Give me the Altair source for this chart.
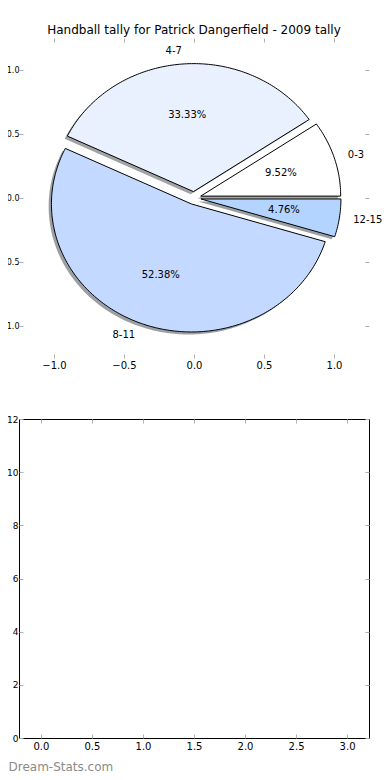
import numpy as np
import pandas as pd
import altair as alt

# ---- data ----
labels = ["0-3", "4-7", "8-11", "12-15"]
counts = [2, 7, 11, 1]
face_colors = ["#ffffff", "#e9f1ff", "#c4d9ff", "#b3d4ff"]
explode = [0.05, 0.05, 0.05, 0.05]

pie_ticks = [-1.0, -0.5, 0.0, 0.5, 1.0]
bottom_x_ticks = [0.0, 0.5, 1.0, 1.5, 2.0, 2.5, 3.0]
bottom_y_ticks = [0, 2, 4, 6, 8, 10, 12]

title_text = "Handball tally for Patrick Dangerfield - 2009 tally"
watermark = "Dream-Stats.com"

FONT = "DejaVu Sans"
TICK = "#b0b0b0"


def shade(hexcol):
    r, g, b = (int(hexcol[i:i + 2], 16) for i in (1, 3, 5))
    return "#%02x%02x%02x" % (int(r * 0.3), int(g * 0.3), int(b * 0.3))


# ---- wedge geometry (matplotlib-style pie: start at 0 deg, counter-clockwise) ----
total = float(sum(counts))
wedge_rows, shadow_rows, label_rows = [], [], []
start = 0.0
for lab, c, col, e in zip(labels, counts, face_colors, explode):
    span = 360.0 * c / total
    t1, t2 = start, start + span
    mid = np.radians((t1 + t2) / 2)
    cx, cy = e * np.cos(mid), e * np.sin(mid)
    angs = np.radians(np.linspace(t1, t2, int(span) + 2))
    pts = [(cx, cy)] + [(cx + np.cos(a), cy + np.sin(a)) for a in angs] + [(cx, cy)]
    for i, (px, py) in enumerate(pts):
        wedge_rows.append(dict(slice=lab, i=i, x=px, y=py, fill=col))
        shadow_rows.append(dict(slice=lab, i=i, x=px - 0.02, y=py - 0.02, fill=shade(col)))
    xt = cx + 1.1 * np.cos(mid)
    yt = cy + 1.1 * np.sin(mid)
    label_rows.append(dict(text=lab, x=xt, y=yt, ha="left" if xt > 0 else "right"))
    label_rows.append(dict(text="%.2f%%" % (100.0 * c / total),
                           x=cx + 0.6 * np.cos(mid), y=cy + 0.6 * np.sin(mid), ha="center"))
    start = t2

wedges = pd.DataFrame(wedge_rows)
shadows = pd.DataFrame(shadow_rows)
texts = pd.DataFrame(label_rows)

xs = alt.Scale(domain=[-1.25, 1.25], nice=False, zero=False)
ys = alt.Scale(domain=[-1.25, 1.25], nice=False, zero=False)


def ax(orient, values, fmt, labels_on=True, pad=2, size=10, expr=None):
    kw = dict(orient=orient, values=values, format=fmt, domain=False, grid=False,
              tickColor=TICK, tickSize=4, tickWidth=1, offset=-4, title=None,
              labels=labels_on, labelPadding=pad, labelFont=FONT, labelFontSize=size,
              labelColor="black")
    if expr:
        kw["labelExpr"] = expr
    return alt.Axis(**kw)


# the reference's left labels are cut at the figure edge, so only "1.0", "0.5" ... show
shadow_layer = alt.Chart(shadows).mark_line(fillOpacity=0.5, strokeOpacity=0).encode(
    x=alt.X("x:Q", scale=xs, axis=ax("bottom", pie_ticks, ".1f", pad=2)),
    y=alt.Y("y:Q", scale=ys, axis=ax("left", pie_ticks, ".1f", pad=0, size=8,
                                    expr="format(abs(datum.value), '.1f')")),
    fill=alt.Fill("fill:N", scale=None),
    detail="slice:N",
    order=alt.Order("i:Q"),
)

wedge_layer = alt.Chart(wedges).mark_line(stroke="black", strokeWidth=1).encode(
    x=alt.X("x:Q", scale=xs, axis=ax("top", pie_ticks, ".1f", labels_on=False)),
    y=alt.Y("y:Q", scale=ys, axis=ax("right", pie_ticks, ".1f", labels_on=False)),
    fill=alt.Fill("fill:N", scale=None),
    detail="slice:N",
    order=alt.Order("i:Q"),
)


def text_layer(ha):
    return alt.Chart(texts).transform_filter(alt.datum.ha == ha).mark_text(
        align=ha, baseline="middle", font=FONT, fontSize=10, color="black"
    ).encode(x=alt.X("x:Q", scale=xs, axis=None), y=alt.Y("y:Q", scale=ys, axis=None),
             text="text:N")


top = alt.layer(
    shadow_layer, wedge_layer, text_layer("left"), text_layer("right"), text_layer("center")
).resolve_axis(x="independent", y="independent").properties(
    width=350, height=320,
    title=alt.TitleParams(title_text, font=FONT, fontSize=12, fontWeight="normal",
                          color="black", anchor="middle", offset=1),
    view=alt.ViewBackground(stroke=None),
)

# ---- empty lower axes ----
frame = pd.DataFrame({"x": bottom_x_ticks, "y": bottom_y_ticks})
bxs = alt.Scale(domain=[-0.215, 3.215], nice=False, zero=False)
bys = alt.Scale(domain=[0, 12], nice=False, zero=False)

b_main = alt.Chart(frame).mark_point(opacity=0).encode(
    x=alt.X("x:Q", scale=bxs, axis=alt.Axis(
        orient="bottom", values=bottom_x_ticks, format=".1f", domain=False, grid=False,
        tickColor=TICK, tickSize=4, offset=-4, labelPadding=3, labelFont=FONT,
        labelFontSize=10, labelColor="black",
        title=watermark, titleFont=FONT, titleFontSize=12, titleFontWeight="normal",
        titleColor="#8a8a8a", titleAlign="left", titleAnchor="start",
        titleBaseline="alphabetic", titleX=-11, titleY=36)),
    y=alt.Y("y:Q", scale=bys, axis=alt.Axis(
        orient="left", values=bottom_y_ticks, format="d", domain=False, grid=False,
        tickColor=TICK, tickSize=4, offset=-4, labelPadding=1, labelFont=FONT,
        labelFontSize=9, labelColor="black", title=None)),
)
b_mirror = alt.Chart(frame).mark_point(opacity=0).encode(
    x=alt.X("x:Q", scale=bxs, axis=alt.Axis(
        orient="top", values=bottom_x_ticks, domain=False, grid=False, labels=False,
        tickColor=TICK, tickSize=4, offset=-4, title=None)),
    y=alt.Y("y:Q", scale=bys, axis=alt.Axis(
        orient="right", values=bottom_y_ticks, domain=False, grid=False, labels=False,
        tickColor=TICK, tickSize=4, offset=-4, title=None)),
)
bottom = alt.layer(b_main, b_mirror).resolve_axis(
    x="independent", y="independent"
).properties(
    width=350, height=319,
    view=alt.ViewBackground(stroke="black", strokeWidth=1),
)

chart = alt.vconcat(top, bottom, spacing=44).properties(
    padding={"left": -2, "top": 15, "right": -1, "bottom": 0},
).configure(background="white")

chart.save("out.html", embed_options={"renderer": "svg", "actions": False})
